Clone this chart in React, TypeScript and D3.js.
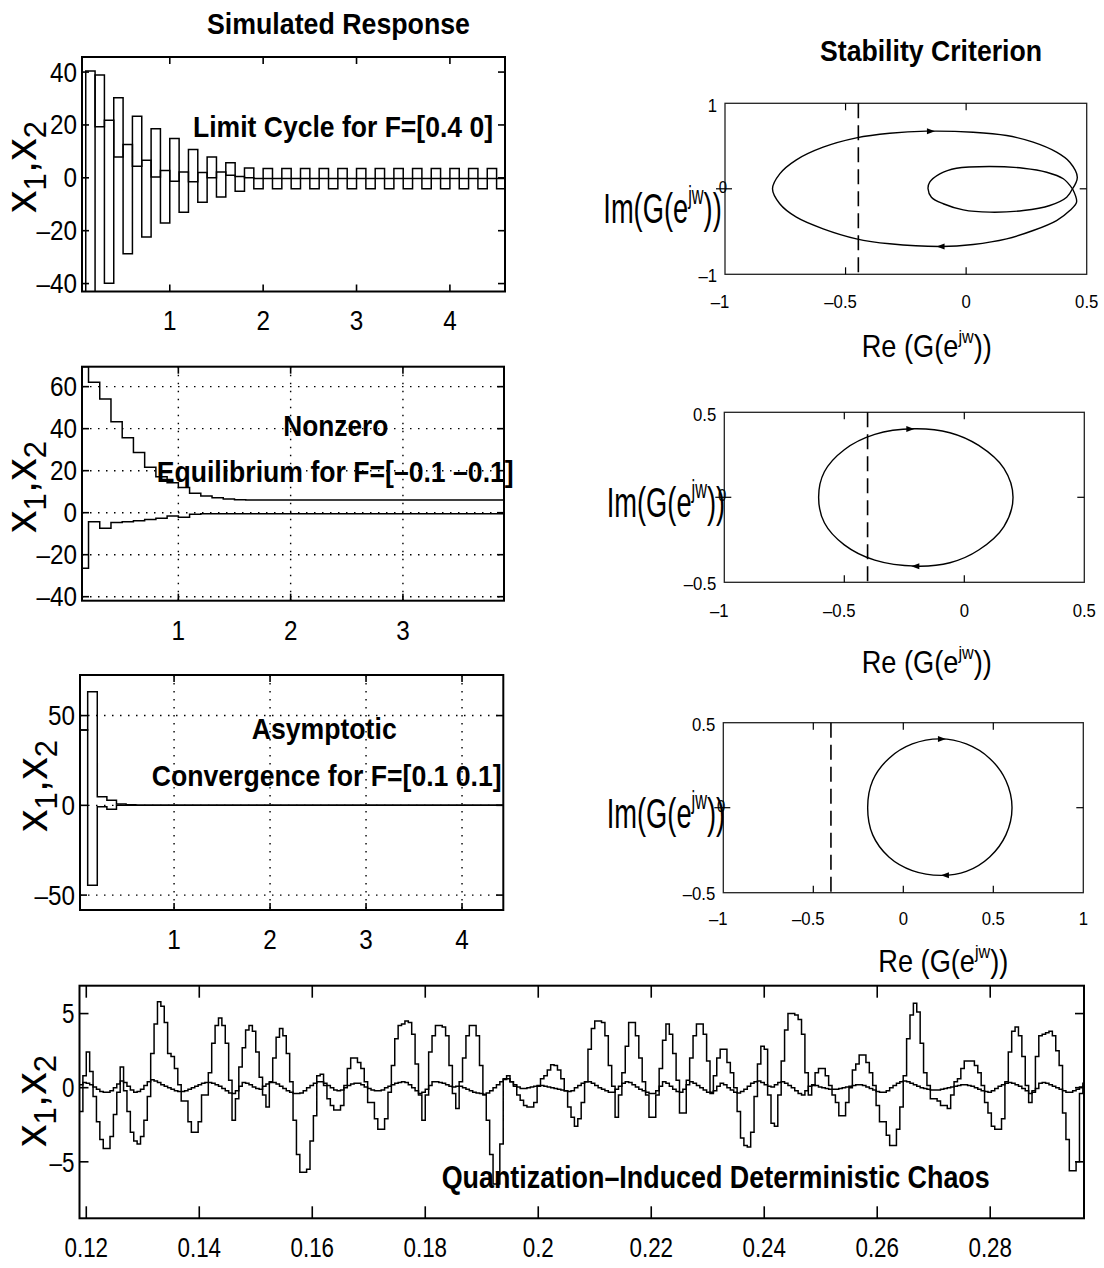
import React from "react";
import * as d3 from "d3";

const FONT = "'Liberation Sans', Arial, Helvetica, sans-serif";

// ---------- Limit cycle for F=[0.4 0], sample period 0.1 ----------
const limitStep = 0.1;
const limitMid = [
  -50, 40.4, 19.3, 21.8, 7.9, 12.6, 4.4, 6.6, 0.3, 2.8,
  -1.3, 2.2, -1.5, 2.0, 0.0, 2.2, 1.0, 0.5, 0.0, -0.3,
  -0.3, -0.3, -0.3, -0.3, -0.3, -0.3, -0.3, -0.3, -0.3, -0.3,
  -0.3, -0.3, -0.3, -0.3, -0.3, -0.3, -0.3, -0.3, -0.3, -0.3,
  -0.3, -0.3, -0.3, -0.3, -0.3, -0.3,
];
const limitOsc = [
  -50, -50, 38.9, -39.9, 30.3, -28.7, 23.3, -22.4, 18.6, -17.1,
  14.9, -13.0, 10.7, -9.2, 7.9, -7.3, 5.7, -5.1, 3.7, -4.1,
  3.5, -4.1, 3.5, -4.1, 3.5, -4.1, 3.5, -4.1, 3.5, -4.1,
  3.5, -4.1, 3.5, -4.1, 3.5, -4.1, 3.5, -4.1, 3.5, -4.1,
  3.5, -4.1, 3.5, -4.1, 3.5, -4.1,
];

// ---------- Nonzero equilibrium for F=[-0.1 -0.1] ----------
const equilStep = 0.1;
const equilUpper = [
  75, 69.5, 62.1, 54.1, 43.3, 35.7, 28.6, 21.6, 17.1, 14.3,
  12.0, 9.2, 7.9, 7.1, 6.5, 6.2, 6.0, 6.0, 6.0, 6.0,
  6.0, 6.0, 6.0, 6.0, 6.0, 6.0, 6.0, 6.0, 6.0, 6.0,
  6.0, 6.0, 6.0, 6.0, 6.0, 6.0, 6.0, 6.0, 6.0, 6.0,
];
const equilLower = [
  -26.5, -26.5, -4.3, -7.4, -4.7, -4.3, -3.8, -3.2, -2.7, -1.6,
  -2.2, -0.8, -0.5, -0.5, -0.5, -0.5, -0.5, -0.5, -0.5, -0.5,
  -0.5, -0.5, -0.5, -0.5, -0.5, -0.5, -0.5, -0.5, -0.5, -0.5,
  -0.5, -0.5, -0.5, -0.5, -0.5, -0.5, -0.5, -0.5, -0.5, -0.5,
];

// ---------- Asymptotic convergence for F=[0.1 0.1] ----------
const convStep = 0.1;
const convA = [
  42, 63.3, 4.8, 2.9, 0.8, 0.3, 0, 0, 0, 0,
  0, 0, 0, 0, 0, 0, 0, 0, 0, 0,
  0, 0, 0, 0, 0, 0, 0, 0, 0, 0,
  0, 0, 0, 0, 0, 0, 0, 0, 0, 0,
  0, 0, 0, 0, 0,
];
const convB = [
  42, -44.5, -0.8, -2.2, 0, 0, 0, 0, 0, 0,
  0, 0, 0, 0, 0, 0, 0, 0, 0, 0,
  0, 0, 0, 0, 0, 0, 0, 0, 0, 0,
  0, 0, 0, 0, 0, 0, 0, 0, 0, 0,
  0, 0, 0, 0, 0,
];

// ---------- Quantization-induced chaos ----------
const chaosStart = 0.1188;
const chaosStep = 0.0006;
const chaosX1 = [
  -1.6, 0.8, 2.4, 1.1, -0.6, -2.3, -3.5, -4.1, -4.1, -3.3,
  -1.8, -0.3, 1.4, -0.2, -1.6, -3.0, -3.6, -3.8, -3.3, -2.2,
  -0.6, 2.3, 4.3, 5.8, 5.5, 4.4, 2.3, 2.1, 1.3, 0.2,
  -0.9, -0.9, -2.3, -3.0, -3.0, -2.3, -0.5, -0.5, 1.0, 3.0,
  4.2, 4.7, 4.2, 3.0, 0.5, -2.2, -0.75, 1.4, 2.7, 3.9,
  4.2, 3.8, 2.4, 0.7, -0.5, -1.3, 0.4, 2.0, 3.4, 4.0,
  3.5, 2.3, 0.4, -2.2, -4.5, -5.7, -5.7, -5.5, -3.6, -1.9,
  0.8, 0.9, 0.15, -0.75, -1.2, -1.5, -1.5, -1.2, 0.15, 1.3,
  2.0, 2.0, 1.7, 1.3, 0.4, -1.0, -1.0, -2.1, -2.8, -2.8,
  -2.1, -0.3, 1.5, 3.3, 4.2, 4.3, 4.5, 4.4, 3.6, 1.6,
  -0.5, -2.2, -0.5, 2.4, 3.5, 4.2, 4.2, 4.1, 3.5, 1.5,
  -0.4, -1.4, 0.4, 2.0, 3.5, 4.2, 4.2, 3.5, 1.5, -0.5,
  -2.2, -4.5, -6.5, -6.5, -3.8, 0.6, 0.8, 0.4, 0.1, -0.5,
  -0.85, -1.2, -1.3, -1.3, -1.0, 0.1, 0.6, 0.8, 1.2, 1.55,
  1.5, 1.2, 0.6, -0.2, -1.3, -2.0, -2.6, -2.1, -1.0, 0.4,
  2.6, 4.0, 4.5, 4.5, 4.4, 3.5, 1.5, 0.1, -2.0, -0.5,
  1.0, 2.8, 4.4, 4.4, 3.5, 2.0, 0.4, -0.5, -2.0, -2.0,
  -0.5, 1.3, 3.2, 4.3, 3.6, 2.3, 0.5, -1.7, -1.7, 0.5,
  2.0, 3.5, 4.3, 4.3, 3.6, 1.8, -0.3, 0.8, 2.0, 2.6,
  2.6, 1.7, 1.0, 0.0, -1.6, -3.4, -3.9, -4.0, -3.0, -0.6,
  1.6, 2.8, 2.6, -0.5, -2.4, -2.6, -0.5, 1.8, 3.9, 5.0,
  5.0, 4.9, 4.6, 3.6, 1.0, -0.5, 0.15, 1.0, 1.3, 1.3,
  0.8, 0.15, -0.5, -1.0, -1.9, -1.9, -1.0, 0.0, 1.2, 1.6,
  2.2, 2.2, 1.7, 1.0, 0.15, -1.2, -2.3, -2.3, -3.2, -3.9,
  -3.9, -2.8, -1.3, 0.8, 3.3, 4.9, 5.7, 5.1, 3.0, 1.0,
  0.15, -0.75, -0.75, -0.9, -1.2, -1.2, -1.4, -0.5, 0.4, 0.6,
  1.3, 1.8, 1.8, 1.8, 1.5, 1.0, 0.15, -1.0, -1.7, -2.6,
  -2.8, -2.8, -2.1, 0.4, 2.4, 3.8, 4.1, 3.5, 2.1, 0.15,
  -1.0, -0.2, 2.1, 3.5, 3.6, 3.7, 3.8, 3.5, 2.5, 1.5,
  -1.7, -3.5, -5.6, -5.6, -5.0, -0.4, 0.3,
];
const chaosX2 = [
  0.2, 0.35, 0.3, 0.2, 0.05, -0.1, -0.25, -0.3, -0.3, -0.2,
  0.0, 0.25, 0.45, 0.35, 0.1, -0.15, -0.3, -0.25, -0.1, 0.15,
  0.4, 0.53, 0.45, 0.35, 0.2, 0.1, 0.0, -0.1, -0.2, -0.25,
  -0.25, -0.2, -0.1, 0.0, 0.1, 0.2, 0.3, 0.35, 0.35, 0.3,
  0.2, 0.1, -0.05, -0.2, -0.35, -0.4, -0.2, 0.1, 0.35, 0.3,
  0.2, 0.05, -0.05, -0.1, 0.1, 0.25, 0.35, 0.35, 0.25, 0.1,
  -0.05, -0.2, -0.3, -0.4, -0.4, -0.35, -0.2, 0.0, 0.15, 0.3,
  0.4, 0.4, 0.3, 0.15, 0.0, -0.15, -0.2, -0.15, 0.0, 0.15,
  0.25, 0.3, 0.3, 0.2, 0.05, -0.05, -0.15, -0.2, -0.2, -0.15,
  0.0, 0.1, 0.2, 0.3, 0.35, 0.4, 0.35, 0.2, 0.0, -0.2,
  -0.4, -0.3, -0.1, 0.15, 0.4, 0.4, 0.35, 0.3, 0.2, 0.1,
  0.05, 0.1, 0.1, 0.0, -0.1, -0.2, -0.3, -0.35, -0.4, -0.45,
  -0.35, -0.2, 0.0, 0.2, 0.4, 0.55, 0.6, 0.4, 0.2, 0.05,
  -0.05, -0.05, 0.0, 0.05, 0.1, 0.15, 0.15, 0.1, 0.05, 0.0,
  -0.05, -0.1, -0.15, -0.2, -0.25, -0.2, 0.0, 0.15, 0.3, 0.4,
  0.4, 0.3, 0.15, 0.0, -0.1, -0.2, -0.3, -0.3, -0.1, 0.1,
  0.3, 0.4, 0.35, 0.2, 0.05, -0.1, -0.2, -0.3, -0.4, -0.4,
  -0.2, 0.1, 0.4, 0.3, 0.1, -0.1, -0.25, -0.3, -0.1, 0.2,
  0.4, 0.3, 0.15, 0.0, -0.15, -0.3, -0.4, -0.2, 0.1, 0.3,
  0.2, 0.0, -0.15, -0.3, -0.35, -0.25, -0.1, 0.1, 0.3, 0.4,
  0.45, 0.35, 0.2, 0.1, 0.05, 0.2, 0.35, 0.4, 0.3, 0.15,
  0.0, -0.2, -0.4, -0.5, -0.2, 0.1, 0.2, 0.15, 0.05, 0.0,
  -0.05, -0.1, -0.1, -0.1, -0.05, 0.0, 0.05, 0.1, 0.15, 0.2,
  0.2, 0.15, 0.05, -0.05, -0.15, -0.25, -0.3, -0.3, -0.2, 0.0,
  0.15, 0.3, 0.4, 0.45, 0.4, 0.3, 0.2, 0.1, 0.0, -0.05,
  -0.1, -0.15, -0.15, -0.15, -0.1, -0.05, 0.0, 0.05, 0.1, 0.15,
  0.2, 0.2, 0.15, 0.1, 0.0, -0.1, -0.2, -0.25, -0.3, -0.2,
  -0.05, 0.1, 0.2, 0.3, 0.35, 0.3, 0.2, 0.1, -0.05, -0.2,
  -0.4, -0.3, -0.05, 0.3, 0.35, 0.3, 0.2, 0.1, 0.0, -0.1,
  -0.2, -0.3, -0.3, -0.2, -0.1, 0.05, 0.1,
];

// ---------- Tick values ----------
const limitXTicks = [1, 2, 3, 4];
const limitYTicks = [-40, -20, 0, 20, 40];
const equilXTicks = [1, 2, 3];
const equilYTicks = [-40, -20, 0, 20, 40, 60];
const convXTicks = [1, 2, 3, 4];
const convYTicks = [-50, 0, 50];
const chaosXTicks = [0.12, 0.14, 0.16, 0.18, 0.2, 0.22, 0.24, 0.26, 0.28];
const chaosYTicks = [-5, 0, 5];

// ---------- Nyquist loci G(e^jw), [Re, Im] ----------
const nyq1Outer: [number, number][] = [
  [0.441, 0], [0.461, 0.136], [0.43, 0.311], [0.375, 0.428], [0.278, 0.545],
  [0.168, 0.623], [0.029, 0.662], [-0.164, 0.674], [-0.317, 0.65], [-0.455, 0.596],
  [-0.593, 0.487], [-0.704, 0.339], [-0.773, 0.175], [-0.803, 0], [-0.773, -0.175],
  [-0.704, -0.332], [-0.593, -0.468], [-0.455, -0.585], [-0.317, -0.643], [-0.102, -0.675],
  [0.029, -0.651], [0.168, -0.585], [0.278, -0.488], [0.375, -0.371], [0.43, -0.254],
  [0.458, -0.156], [0.441, 0],
];
const nyq1Inner: [number, number][] = [
  [0.441, 0], [0.403, 0.117], [0.334, 0.194], [0.237, 0.241], [0.098, 0.261],
  [-0.04, 0.241], [-0.109, 0.175], [-0.151, 0.077], [-0.158, 0], [-0.144, -0.098],
  [-0.095, -0.175], [-0.012, -0.246], [0.098, -0.273], [0.237, -0.254], [0.347, -0.195],
  [0.417, -0.098], [0.441, 0],
];
const nyq2Loop: [number, number][] = [
  [-0.607, 0], [-0.583, 0.15], [-0.5, 0.28], [-0.373, 0.37], [-0.21, 0.403],
  [-0.06, 0.38], [0.06, 0.305], [0.165, 0.17], [0.203, 0], [0.165, -0.172],
  [0.06, -0.31], [-0.06, -0.385], [-0.2, -0.405], [-0.373, -0.37], [-0.5, -0.28],
  [-0.583, -0.15],
];
const nyq3Loop: [number, number][] = [
  [-0.198, 0], [-0.17, 0.16], [-0.08, 0.29], [0.05, 0.375], [0.205, 0.405],
  [0.35, 0.375], [0.48, 0.29], [0.57, 0.16], [0.604, 0], [0.57, -0.16],
  [0.48, -0.29], [0.35, -0.375], [0.21, -0.398], [0.05, -0.37], [-0.08, -0.29],
  [-0.17, -0.16],
];
// direction markers on the loci: [Re, Im, +1 rightwards / -1 leftwards]
const nyq1Arrows: [number, number, number][] = [[-0.15, 0.674, 1], [-0.102, -0.675, -1]];
const nyq2Arrows: [number, number, number][] = [[-0.229, 0.402, 1], [-0.2, -0.405, -1]];
const nyq3Arrows: [number, number, number][] = [[0.209, 0.404, 1], [0.237, -0.397, -1]];
const nyqCritical = [-0.447, -0.403, -0.402];

type Box = { left: number; right: number; top: number; bottom: number };

const fmt = (v: number) => (v < 0 ? "\u2013" + String(-v) : String(v));

function NText(props: {
  x: number; y: number; sx: number; size: number; anchor?: string;
  weight?: string; dy?: string; children: React.ReactNode;
}) {
  const { x, y, sx, size, anchor = "middle", weight = "normal", dy = "0.35em", children } = props;
  return (
    <text
      transform={`translate(${x},${y}) scale(${sx},1)`}
      fontSize={size}
      fontFamily={FONT}
      fontWeight={weight}
      textAnchor={anchor}
      dy={dy}
      fill="#000"
    >
      {children}
    </text>
  );
}

function BoldText(props: { x: number; y: number; size: number; len: number; text: string }) {
  return (
    <text
      x={props.x}
      y={props.y}
      fontSize={props.size}
      fontFamily={FONT}
      fontWeight="bold"
      textLength={props.len}
      lengthAdjust="spacingAndGlyphs"
      fill="#000"
    >
      {props.text}
    </text>
  );
}

function stairPoints(t0: number, dt: number, vals: number[]): [number, number][] {
  const pts: [number, number][] = vals.map((v, k) => [t0 + k * dt, v]);
  pts.push([t0 + vals.length * dt, vals[vals.length - 1]]);
  return pts;
}

function YLabel(props: { x: number; y: number }) {
  return (
    <text
      transform={`translate(${props.x},${props.y}) rotate(-90)`}
      fontSize={45}
      fontFamily={FONT}
      textAnchor="middle"
      fill="#000"
    >
      x<tspan fontSize={31} dy={10}>1</tspan>
      <tspan dy={-10}>,</tspan>x<tspan fontSize={31} dy={10}>2</tspan>
    </text>
  );
}

function TimePanel(p: {
  id: string;
  box: Box;
  xDomain: [number, number];
  yDomain: [number, number];
  xTicks: number[];
  yTicks: number[];
  grid: boolean;
  series: number[][];
  t0: number;
  dt: number;
  xTickLen: number;
  yTickLen: number;
  xLabelY: number;
  tickSize: number;
  tickSx: number;
}) {
  const { box } = p;
  const x = d3.scaleLinear().domain(p.xDomain).range([box.left, box.right]);
  const y = d3.scaleLinear().domain(p.yDomain).range([box.bottom, box.top]);
  const line = d3
    .line<[number, number]>()
    .x((d) => x(d[0]))
    .y((d) => y(d[1]))
    .curve(d3.curveStepAfter);
  return (
    <g>
      <defs>
        <clipPath id={p.id}>
          <rect x={box.left} y={box.top} width={box.right - box.left} height={box.bottom - box.top} />
        </clipPath>
      </defs>
      {p.grid && (
        <g stroke="#000" strokeWidth={1.4} strokeDasharray="1.5,6.5">
          {p.xTicks.map((t) => (
            <line key={"gx" + t} x1={x(t)} x2={x(t)} y1={box.top} y2={box.bottom} />
          ))}
          {p.yTicks.map((t) => (
            <line key={"gy" + t} x1={box.left} x2={box.right} y1={y(t)} y2={y(t)} />
          ))}
        </g>
      )}
      <g clipPath={`url(#${p.id})`} fill="none" stroke="#000" strokeWidth={1.5}>
        {p.series.map((s, i) => (
          <path key={i} d={line(stairPoints(p.t0, p.dt, s)) || ""} />
        ))}
      </g>
      <rect
        x={box.left}
        y={box.top}
        width={box.right - box.left}
        height={box.bottom - box.top}
        fill="none"
        stroke="#000"
        strokeWidth={2}
      />
      <g stroke="#000" strokeWidth={1.6}>
        {p.xTicks.map((t) => (
          <g key={"tx" + t}>
            <line x1={x(t)} x2={x(t)} y1={box.bottom} y2={box.bottom - p.xTickLen} />
            <line x1={x(t)} x2={x(t)} y1={box.top} y2={box.top + p.xTickLen} />
          </g>
        ))}
        {p.yTicks.map((t) => (
          <g key={"ty" + t}>
            <line x1={box.left} x2={box.left + p.yTickLen} y1={y(t)} y2={y(t)} />
            <line x1={box.right} x2={box.right - p.yTickLen} y1={y(t)} y2={y(t)} />
          </g>
        ))}
      </g>
      {p.xTicks.map((t) => (
        <NText key={"lx" + t} x={x(t)} y={p.xLabelY} sx={p.tickSx} size={p.tickSize}>
          {fmt(t)}
        </NText>
      ))}
      {p.yTicks.map((t) => (
        <NText key={"ly" + t} x={box.left - 5} y={y(t)} sx={p.tickSx} size={p.tickSize} anchor="end">
          {fmt(t)}
        </NText>
      ))}
    </g>
  );
}

function NyquistPanel(p: {
  box: Box;
  xDomain: [number, number];
  yDomain: [number, number];
  innerXTicks: number[];
  xLabels: number[];
  xLabelY: number;
  loops: { pts: [number, number][]; closed: boolean }[];
  arrows: [number, number, number][];
  critical: number;
  imPos: [number, number];
  rePos: [number, number];
}) {
  const { box } = p;
  const x = d3.scaleLinear().domain(p.xDomain).range([box.left, box.right]);
  const y = d3.scaleLinear().domain(p.yDomain).range([box.bottom, box.top]);
  const openLine = d3
    .line<[number, number]>()
    .x((d) => x(d[0]))
    .y((d) => y(d[1]))
    .curve(d3.curveCatmullRom.alpha(0.5));
  const closedLine = d3
    .line<[number, number]>()
    .x((d) => x(d[0]))
    .y((d) => y(d[1]))
    .curve(d3.curveCatmullRomClosed.alpha(0.5));
  const [yLo, yHi] = p.yDomain;
  return (
    <g>
      <rect
        x={box.left}
        y={box.top}
        width={box.right - box.left}
        height={box.bottom - box.top}
        fill="none"
        stroke="#222"
        strokeWidth={1.3}
      />
      <line
        x1={x(p.critical)}
        x2={x(p.critical)}
        y1={box.top}
        y2={box.bottom}
        stroke="#000"
        strokeWidth={1.6}
        strokeDasharray="15,7"
      />
      <g fill="none" stroke="#000" strokeWidth={1.4}>
        {p.loops.map((l, i) => (
          <path key={i} d={(l.closed ? closedLine(l.pts) : openLine(l.pts)) || ""} />
        ))}
      </g>
      {p.arrows.map(([re, im, dir], i) => {
        const cx = x(re);
        const cy = y(im);
        const pts = `${cx + dir * 5},${cy} ${cx - dir * 3},${cy - 3} ${cx - dir * 3},${cy + 3}`;
        return <polygon key={i} points={pts} fill="#000" />;
      })}
      <g stroke="#000" strokeWidth={1.2}>
        {p.innerXTicks.map((t) => (
          <g key={t}>
            <line x1={x(t)} x2={x(t)} y1={box.top} y2={box.top + 7} />
            <line x1={x(t)} x2={x(t)} y1={box.bottom} y2={box.bottom - 7} />
          </g>
        ))}
        <line x1={box.left - 9} x2={box.left + 7} y1={y(0)} y2={y(0)} />
        <line x1={box.right} x2={box.right - 7} y1={y(0)} y2={y(0)} />
      </g>
      {p.xLabels.map((t) => (
        <NText key={"nx" + t} x={x(t) - (t < 0 ? 5 : 0)} y={p.xLabelY} sx={0.88} size={19}>
          {fmt(t)}
        </NText>
      ))}
      <NText x={box.left - 8} y={box.top + 2} sx={0.88} size={19} anchor="end">
        {fmt(yHi)}
      </NText>
      <NText x={box.left - 8} y={box.bottom + 1} sx={0.88} size={19} anchor="end">
        {fmt(yLo)}
      </NText>
      <NText x={box.left + 2} y={y(0) - 2} sx={0.88} size={17} anchor="end">
        0
      </NText>
      <text
        transform={`translate(${p.imPos[0]},${p.imPos[1]}) scale(0.65,1)`}
        fontSize={42}
        fontFamily={FONT}
        fill="#000"
      >
        Im(G(e<tspan fontSize={25} dy={-19}>jw</tspan>
        <tspan dy={19}>))</tspan>
      </text>
      <text
        transform={`translate(${p.rePos[0]},${p.rePos[1]}) scale(0.85,1)`}
        fontSize={32}
        fontFamily={FONT}
        fill="#000"
      >
        Re (G(e<tspan fontSize={19} dy={-14}>jw</tspan>
        <tspan dy={14}>))</tspan>
      </text>
    </g>
  );
}

export default function App() {
  return (
    <svg
      width={1104}
      height={1268}
      viewBox="0 0 1104 1268"
      style={{ position: "absolute", left: 0, top: 0, background: "#fff" }}
    >
      <rect x={0} y={0} width={1104} height={1268} fill="#fff" />

      <BoldText x={207} y={34} size={29} len={263} text="Simulated Response" />
      <BoldText x={820} y={61} size={29} len={222} text="Stability Criterion" />

      {/* Limit cycle */}
      <TimePanel
        id="clip-limit"
        box={{ left: 82, right: 505, top: 57, bottom: 291.5 }}
        xDomain={[0.06, 4.59]}
        yDomain={[-43, 45.7]}
        xTicks={limitXTicks}
        yTicks={limitYTicks}
        grid={false}
        series={[limitMid, limitOsc]}
        t0={0}
        dt={limitStep}
        xTickLen={7}
        yTickLen={7}
        xLabelY={321}
        tickSize={27}
        tickSx={0.9}
      />
      <YLabel x={36} y={167} />
      <BoldText x={193} y={136.5} size={30} len={300} text="Limit Cycle for F=[0.4 0]" />

      {/* Nonzero equilibrium */}
      <TimePanel
        id="clip-equil"
        box={{ left: 82, right: 504, top: 366.7, bottom: 600.7 }}
        xDomain={[0.142, 3.9]}
        yDomain={[-41.9, 69.5]}
        xTicks={equilXTicks}
        yTicks={equilYTicks}
        grid={true}
        series={[equilUpper, equilLower]}
        t0={0}
        dt={equilStep}
        xTickLen={7}
        yTickLen={7}
        xLabelY={631}
        tickSize={27}
        tickSx={0.9}
      />
      <YLabel x={36} y={487} />
      <BoldText x={283.3} y={436} size={30} len={105} text="Nonzero" />
      <BoldText x={156.7} y={481.7} size={30} len={357} text={"Equilibrium for F=[\u20130.1 \u20130.1]"} />

      {/* Asymptotic convergence */}
      <TimePanel
        id="clip-conv"
        box={{ left: 80, right: 503.3, top: 675, bottom: 910 }}
        xDomain={[0.02, 4.43]}
        yDomain={[-58.3, 72.6]}
        xTicks={convXTicks}
        yTicks={convYTicks}
        grid={true}
        series={[convA, convB]}
        t0={0}
        dt={convStep}
        xTickLen={7}
        yTickLen={7}
        xLabelY={940}
        tickSize={27}
        tickSx={0.9}
      />
      <YLabel x={47} y={786} />
      <BoldText x={251.7} y={739} size={30} len={145} text="Asymptotic" />
      <BoldText x={151.7} y={786} size={30} len={350} text="Convergence for F=[0.1 0.1]" />

      {/* Nyquist plots */}
      <NyquistPanel
        box={{ left: 725, right: 1086.7, top: 103.3, bottom: 274.3 }}
        xDomain={[-1, 0.5]}
        yDomain={[-1, 1]}
        innerXTicks={[-0.5, 0]}
        xLabels={[-1, -0.5, 0, 0.5]}
        xLabelY={301.7}
        loops={[
          { pts: nyq1Outer, closed: false },
          { pts: nyq1Inner, closed: false },
        ]}
        arrows={nyq1Arrows}
        critical={nyqCritical[0]}
        imPos={[603.3, 223.3]}
        rePos={[861.7, 356.7]}
      />
      <NyquistPanel
        box={{ left: 724.3, right: 1084.3, top: 412.3, bottom: 582.3 }}
        xDomain={[-1, 0.5]}
        yDomain={[-0.5, 0.5]}
        innerXTicks={[-0.5, 0]}
        xLabels={[-1, -0.5, 0, 0.5]}
        xLabelY={610}
        loops={[{ pts: nyq2Loop, closed: true }]}
        arrows={nyq2Arrows}
        critical={nyqCritical[1]}
        imPos={[606.7, 516.7]}
        rePos={[861.7, 673.3]}
      />
      <NyquistPanel
        box={{ left: 723.3, right: 1083.3, top: 722.7, bottom: 892.7 }}
        xDomain={[-1, 1]}
        yDomain={[-0.5, 0.5]}
        innerXTicks={[-0.5, 0, 0.5]}
        xLabels={[-1, -0.5, 0, 0.5, 1]}
        xLabelY={918.3}
        loops={[{ pts: nyq3Loop, closed: true }]}
        arrows={nyq3Arrows}
        critical={nyqCritical[2]}
        imPos={[606.7, 828.3]}
        rePos={[878.3, 971.7]}
      />

      {/* Chaotic response */}
      <TimePanel
        id="clip-chaos"
        box={{ left: 79.5, right: 1084, top: 985.7, bottom: 1218.3 }}
        xDomain={[0.1188, 0.2966]}
        yDomain={[-8.81, 6.88]}
        xTicks={chaosXTicks}
        yTicks={chaosYTicks}
        grid={false}
        series={[chaosX2, chaosX1]}
        t0={chaosStart}
        dt={chaosStep}
        xTickLen={12}
        yTickLen={9}
        xLabelY={1247}
        tickSize={28}
        tickSx={0.8}
      />
      <YLabel x={46} y={1101} />
      <BoldText
        x={441.7}
        y={1188}
        size={32}
        len={548}
        text={"Quantization\u2013Induced Deterministic Chaos"}
      />
    </svg>
  );
}
